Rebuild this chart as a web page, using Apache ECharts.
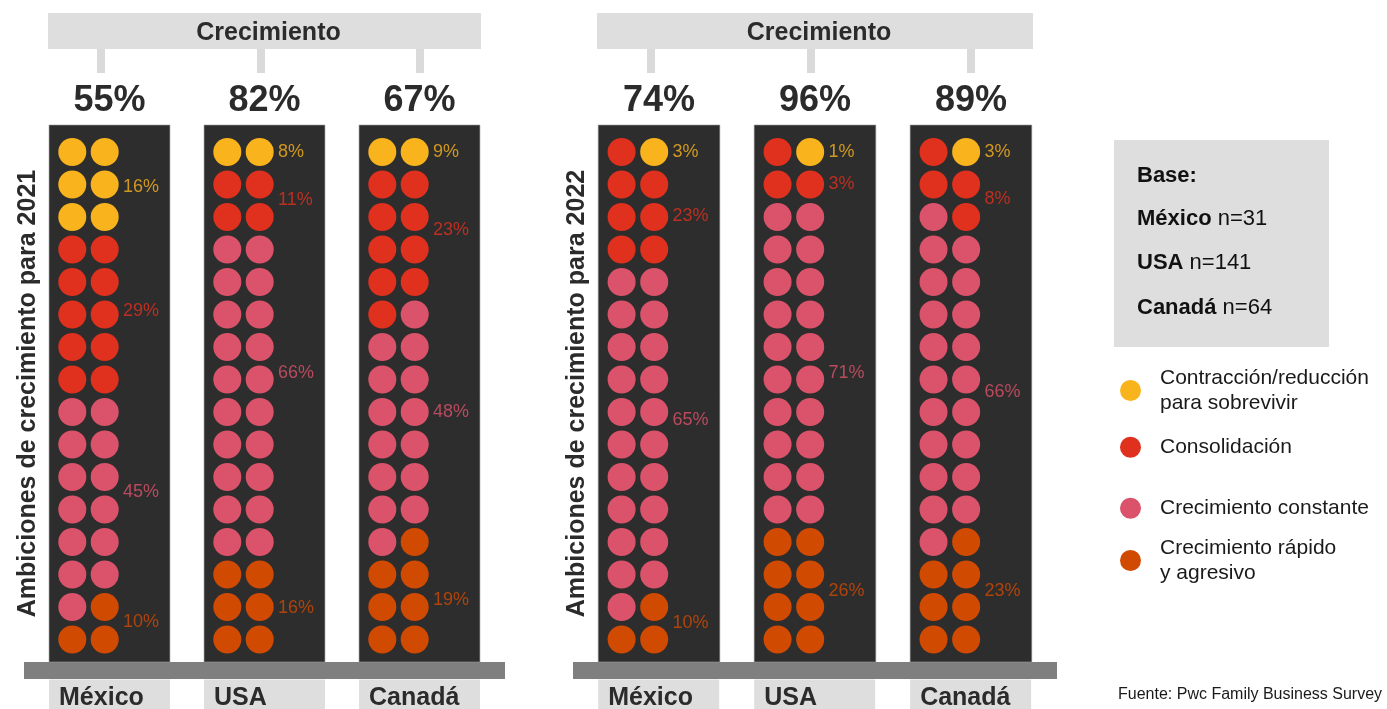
<!DOCTYPE html>
<html><head><meta charset="utf-8">
<script src="https://cdn.jsdelivr.net/npm/echarts@6/dist/echarts.min.js"></script>
<style>html,body{margin:0;padding:0;background:#fff}#c{width:1387px;height:709px}</style>
</head><body><div id="c"></div>
<script>
// ---------------- data ----------------
const countries = ['México', 'USA', 'Canadá'];
const categories = ['Contracción/reducción\npara sobrevivir', 'Consolidación', 'Crecimiento constante', 'Crecimiento rápido\ny agresivo'];
const years = ['2021', '2022'];
const baseN = [31, 141, 64];
const growth2021 = [55, 82, 67];
const growth2022 = [74, 96, 89];
// share (%) per country: [contracción, consolidación, constante, rápido]
const share2021 = [[16, 29, 45, 10], [8, 11, 66, 16], [9, 23, 48, 19]];
const share2022 = [[3, 23, 65, 10], [1, 3, 71, 26], [3, 8, 66, 23]];
// dot rows per country (16 rows x 2 dots, top to bottom, left then right); digit = category index
const dots2021 = [
  ['00','00','00','11','11','11','11','11','22','22','22','22','22','22','23','33'],
  ['00','11','11','22','22','22','22','22','22','22','22','22','22','33','33','33'],
  ['00','11','11','11','11','12','22','22','22','22','22','22','23','33','33','33']
];
const dots2022 = [
  ['10','11','11','11','22','22','22','22','22','22','22','22','22','22','23','33'],
  ['10','11','22','22','22','22','22','22','22','22','22','22','33','33','33','33'],
  ['10','11','21','22','22','22','22','22','22','22','22','22','23','33','33','33']
];
// row (in dot-row units) where each share label sits
const labelRow2021 = [[1.08, 4.89, 10.46, 14.46], [0, 1.48, 6.8, 14.03], [0, 2.4, 8, 13.8]];
const labelRow2022 = [[0, 1.97, 8.25, 14.5], [0, 1, 6.8, 13.5], [0, 1.45, 7.4, 13.5]];

// ---------------- style / layout ----------------
const FONT = "'Liberation Sans', Arial, Helvetica, sans-serif";
const COLORS = ['#f9b31d', '#e0301e', '#db536a', '#d04a02'];
const DARK = '#2b2b2b';
const XMIN = -0.5516, XMAX = 2.5516;
const YMIN = -0.8308, YMAX = 15.6923;
const DOT_DX = [-0.24, -0.031];
const COL_HALF = 0.39;
const LABEL_DX = 0.087;

const panels = [
  { dots: dots2021, share: share2021, growth: growth2021, rows: labelRow2021, year: years[0], left: 24, width: 481 },
  { dots: dots2022, share: share2022, growth: growth2022, rows: labelRow2022, year: years[1], left: 573, width: 484 }
];

const grid = [], xAxis = [], yAxis = [], series = [];
panels.forEach((p, g) => {
  grid.push({ left: p.left, width: p.width, top: 125, height: 537, containLabel: false, outerBoundsMode: 'none' });
  xAxis.push({
    gridIndex: g, type: 'value', min: XMIN, max: XMAX, position: 'bottom', offset: 8.5,
    axisLine: { show: true, onZero: false, lineStyle: { color: '#7f7f7f', width: 17, cap: 'butt' } },
    axisTick: { show: false }, splitLine: { show: false },
    axisLabel: {
      customValues: countries.map((c, i) => i - COL_HALF),
      formatter: v => countries[Math.round(v + COL_HALF)],
      align: 'left', margin: 9, fontSize: 25, fontWeight: 'bold', color: DARK, fontFamily: FONT,
      backgroundColor: '#dedede', width: 101, padding: [6, 10, 12, 10], lineHeight: 25
    }
  });
  xAxis.push({
    gridIndex: g, type: 'value', min: XMIN, max: XMAX, position: 'top',
    axisLine: { show: false, onZero: false }, axisTick: { show: false }, splitLine: { show: false },
    axisLabel: {
      customValues: countries.map((c, i) => i),
      formatter: v => p.growth[Math.round(v)] + '%',
      margin: 6, fontSize: 36, fontWeight: 'bold', color: DARK, fontFamily: FONT
    }
  });
  yAxis.push({
    gridIndex: g, type: 'value', inverse: true, min: YMIN, max: YMAX,
    axisLine: { show: false }, axisTick: { show: false }, axisLabel: { show: false }, splitLine: { show: false },
    name: 'Ambiciones de crecimiento para ' + p.year, nameLocation: 'middle', nameGap: -17,
    nameTextStyle: { fontSize: 25, fontWeight: 'bold', color: DARK, fontFamily: FONT }
  });
  // dark columns
  series.push({
    type: 'custom', xAxisIndex: 2 * g, yAxisIndex: g, silent: true, z: 1,
    data: countries.map((c, i) => [i]),
    renderItem(params, api) {
      const cs = params.coordSys;
      const x = api.coord([api.value(0), 0])[0];
      const w = api.size([2 * COL_HALF, 0])[0];
      return { type: 'rect', shape: { x: x - w / 2, y: cs.y, width: w, height: cs.height },
        style: { fill: '#2d2d2d', stroke: '#9a9a9a', lineWidth: 0.6 } };
    }
  });
  // dots
  categories.forEach((cat, k) => {
    const data = [];
    p.dots.forEach((rows, i) => rows.forEach((pair, r) => pair.split('').forEach((ch, s) => {
      if (+ch === k) data.push([i + DOT_DX[s], r]);
    })));
    series.push({ type: 'scatter', name: cat, xAxisIndex: 2 * g, yAxisIndex: g, data,
      symbol: 'circle', symbolSize: 28, itemStyle: { color: COLORS[k], opacity: 1 }, silent: true, z: 3 });
  });
  // share labels
  const ldata = [];
  p.share.forEach((arr, i) => arr.forEach((v, k) => {
    ldata.push({ value: [i + LABEL_DX, p.rows[i][k], v], label: { color: COLORS[k] } });
  }));
  series.push({ type: 'scatter', xAxisIndex: 2 * g, yAxisIndex: g, data: ldata, symbolSize: 0, silent: true, z: 4,
    label: { show: true, position: 'right', distance: 0, fontSize: 18, fontFamily: FONT, formatter: q => q.value[2] + '%' } });
});

const legendTops = [361, 430, 491, 531];
const legend = categories.map((c, k) => ({
  data: [c], left: 1115, top: legendTops[k], orient: 'vertical', icon: 'circle',
  itemWidth: 21, itemHeight: 21, selectedMode: false,
  textStyle: { fontSize: 21, color: '#1a1a1a', lineHeight: 24.5, padding: [0, 0, 0, 14], fontFamily: FONT }
}));

const graphic = [];
[[48, 433, 268.5, [97, 257, 416]], [597, 436, 819, [647, 807, 967]]].forEach(([x, w, tx, cx]) => {
  graphic.push({ type: 'rect', shape: { x, y: 13, width: w, height: 36 }, style: { fill: '#dedede' }, z: 0 });
  cx.forEach(c => graphic.push({ type: 'rect', shape: { x: c, y: 49, width: 8, height: 24 }, style: { fill: '#dadada' }, z: 0 }));
  graphic.push({ type: 'text', x: tx, y: 33.5, style: { text: 'Crecimiento', align: 'center', verticalAlign: 'middle',
    fontSize: 25, fontWeight: 'bold', fontFamily: FONT, fill: DARK }, z: 1 });
});
graphic.push({ type: 'rect', shape: { x: 1114, y: 140, width: 215, height: 207 }, style: { fill: '#dedede' }, z: 0 });
const baseLines = ['{b|Base:}'].concat(countries.map((c, i) => '{b|' + c + '} n=' + baseN[i]));
[176, 219, 263, 308].forEach((y, i) => graphic.push({ type: 'text', x: 1137, y, z: 1,
  style: { text: baseLines[i], align: 'left', verticalAlign: 'middle', fontSize: 22, fontFamily: FONT, fill: '#111',
    rich: { b: { fontSize: 22, fontWeight: 'bold', fontFamily: FONT, fill: '#111' } } } }));
graphic.push({ type: 'text', x: 1118, y: 695, style: { text: 'Fuente: Pwc Family Business Survey', align: 'left',
  verticalAlign: 'middle', fontSize: 16, fontFamily: FONT, fill: '#1a1a1a' } });

const chart = echarts.init(document.getElementById('c'), null, { renderer: 'canvas' });
chart.setOption({
  animation: false,
  backgroundColor: '#ffffff',
  textStyle: { fontFamily: FONT },
  grid, xAxis, yAxis, series, legend, graphic
});
</script>
</body></html>
